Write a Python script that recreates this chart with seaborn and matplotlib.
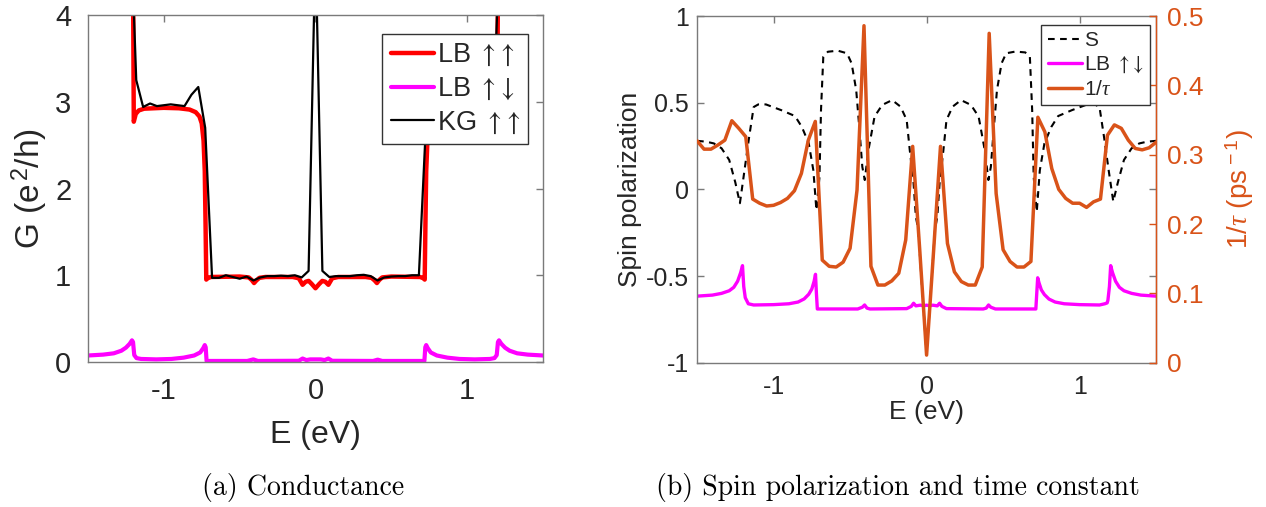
import numpy as np
import pandas as pd
import matplotlib
matplotlib.use("Agg")
import matplotlib.pyplot as plt
import seaborn as sns

# ---------------- data ----------------
# (a) Conductance: fine-grid Landauer-Buttiker curves (breakpoints)
E_LB_uu = [-1.50, -1.205, -1.198, -1.185, -1.165, -1.13, -1.0, -0.90, -0.83, -0.79, -0.765, -0.75,
           -0.738, -0.73, -0.725, -0.72, -0.712, -0.69, -0.5, -0.44, -0.42, -0.405, -0.39, -0.37,
           -0.33, -0.15, -0.11, -0.085, -0.065, -0.045, -0.025, 0.0, 0.025, 0.045, 0.065, 0.085,
           0.11, 0.15, 0.33, 0.37, 0.39, 0.405, 0.42, 0.44, 0.5, 0.69, 0.712, 0.72, 0.725, 0.73,
           0.738, 0.75, 0.765, 0.79, 0.83, 0.90, 1.0, 1.13, 1.165, 1.185, 1.198, 1.205, 1.50]
G_LB_uu = [5.0, 5.0, 2.77, 2.86, 2.90, 2.92, 2.93, 2.925, 2.91, 2.88, 2.83, 2.75,
           2.55, 2.2, 1.6, 0.95, 0.965, 0.98, 0.985, 0.975, 0.945, 0.91, 0.94, 0.97,
           0.98, 0.98, 0.965, 0.89, 0.925, 0.935, 0.90, 0.85, 0.90, 0.935, 0.925, 0.89,
           0.965, 0.98, 0.98, 0.97, 0.94, 0.91, 0.945, 0.975, 0.985, 0.98, 0.965, 0.95, 1.6, 2.2,
           2.55, 2.75, 2.83, 2.88, 2.91, 2.925, 2.93, 2.92, 2.90, 2.86, 2.77, 5.0, 5.0]

E_LB_ud = [-1.5, -1.4, -1.33, -1.28, -1.25, -1.225, -1.21, -1.203, -1.195, -1.18, -1.15, -1.05,
           -0.95, -0.87, -0.8, -0.76, -0.74, -0.73, -0.724, -0.718, -0.45, -0.41, -0.38, -0.11,
           -0.085, -0.06, -0.035, 0.0, 0.035, 0.06, 0.085, 0.11, 0.38, 0.41, 0.44, 0.718, 0.724,
           0.73, 0.74, 0.76, 0.8, 0.87, 0.95, 1.05, 1.15, 1.18, 1.195, 1.203, 1.21, 1.225, 1.25,
           1.28, 1.33, 1.4, 1.5]
G_LB_ud = [0.075, 0.085, 0.10, 0.13, 0.165, 0.21, 0.25, 0.23, 0.08, 0.045, 0.035, 0.03,
           0.035, 0.05, 0.075, 0.11, 0.16, 0.195, 0.17, 0.012, 0.012, 0.03, 0.012, 0.014,
           0.04, 0.022, 0.03, 0.03, 0.03, 0.022, 0.04, 0.014, 0.012, 0.027, 0.012, 0.012, 0.17,
           0.195, 0.16, 0.11, 0.075, 0.05, 0.035, 0.03, 0.035, 0.045, 0.08, 0.23, 0.25, 0.21, 0.165,
           0.13, 0.10, 0.085, 0.075]

# coarse energy grid (Kubo-Greenwood and 1/tau), 67 samples over [-1.5, 1.5]
E_coarse = np.linspace(-1.5, 1.5, 67)
G_KG_uu = [5.5, 5.5, 5.5, 5.5, 5.5, 5.5, 5.5, 3.25, 2.94, 2.98, 2.95, 2.96, 2.97, 2.96, 2.95,
           3.08, 3.17, 2.70, 0.97, 0.97, 1.0, 0.98, 0.96, 0.985, 0.94, 0.975, 0.99, 0.99, 0.995,
           0.99, 1.0, 0.975, 1.05, 4.8, 1.05, 0.98, 0.99, 0.99, 0.99, 1.0, 1.005, 0.99, 0.94,
           0.975, 0.985, 0.99, 0.99, 1.0, 1.0, 2.70, 3.17, 3.08, 2.95, 2.96, 2.97, 2.96, 2.95,
           2.98, 2.94, 3.25, 5.5, 5.5, 5.5, 5.5, 5.5, 5.5, 5.5]

# (b) Spin polarization (left axis) and 1/tau (right axis)
E_S = [-1.5, -1.44, -1.39, -1.34, -1.29, -1.25, -1.22, -1.19, -1.16, -1.13, -1.10, -1.05, -0.95,
       -0.86, -0.815, -0.77, -0.74, -0.72, -0.70, -0.69, -0.675, -0.645, -0.58, -0.52, -0.49,
       -0.46, -0.44, -0.42, -0.404, -0.38, -0.34, -0.29, -0.225, -0.17, -0.13, -0.11, -0.085,
       -0.07, -0.055, -0.03, 0.0, 0.03, 0.055, 0.07, 0.085, 0.11, 0.13, 0.17, 0.225, 0.29, 0.34,
       0.38, 0.404, 0.42, 0.44, 0.46, 0.49, 0.52, 0.58, 0.645, 0.675, 0.69, 0.70, 0.72, 0.74,
       0.77, 0.815, 0.86, 0.95, 1.05, 1.10, 1.13, 1.16, 1.19, 1.22, 1.25, 1.29, 1.34, 1.39,
       1.44, 1.5]
S_vals = [0.28, 0.275, 0.265, 0.237, 0.17, 0.04, -0.08, 0.11, 0.30, 0.475, 0.49, 0.49, 0.457,
          0.423, 0.36, 0.265, 0.11, -0.12, 0.07, 0.457, 0.765, 0.794, 0.80, 0.785, 0.727,
          0.573, 0.36, 0.13, 0.054, 0.227, 0.42, 0.487, 0.515, 0.477, 0.40, 0.227, 0.035,
          -0.158, -0.23, -0.56, -0.95, -0.56, -0.23, -0.158, 0.035, 0.227, 0.40, 0.477, 0.515,
          0.487, 0.42, 0.227, 0.054, 0.13, 0.36, 0.573, 0.727, 0.785, 0.795, 0.79, 0.765, 0.457,
          0.07, -0.13, 0.11, 0.265, 0.36, 0.423, 0.457, 0.49, 0.49, 0.475, 0.30, 0.11, -0.07,
          0.04, 0.17, 0.237, 0.265, 0.275, 0.28]

E_LB_ud2 = [-1.5, -1.40, -1.34, -1.29, -1.26, -1.235, -1.215, -1.203, -1.195, -1.185, -1.165,
            -1.13, -1.0, -0.9, -0.84, -0.8, -0.77, -0.75, -0.735, -0.726, -0.72, -0.714, -0.45,
            -0.42, -0.405, -0.39, -0.37, -0.13, -0.1, -0.085, -0.07, -0.04, -0.02, 0.0, 0.02,
            0.04, 0.07, 0.085, 0.1, 0.13, 0.37, 0.39, 0.405, 0.42, 0.45, 0.714, 0.72, 0.726,
            0.735, 0.75, 0.77, 0.8, 0.84, 0.9, 1.0, 1.13, 1.165, 1.18, 1.185, 1.195, 1.203,
            1.215, 1.235, 1.26, 1.29, 1.34, 1.40, 1.5]
S_LB_ud2 = [-0.616, -0.61, -0.60, -0.585, -0.565, -0.53, -0.48, -0.44, -0.56, -0.625, -0.66,
            -0.667, -0.665, -0.66, -0.65, -0.632, -0.605, -0.575, -0.53, -0.49, -0.60, -0.69,
            -0.69, -0.68, -0.667, -0.685, -0.69, -0.688, -0.675, -0.657, -0.672, -0.668, -0.672,
            -0.668, -0.672, -0.668, -0.672, -0.657, -0.675, -0.688, -0.69, -0.685, -0.667, -0.68,
            -0.69, -0.69, -0.60, -0.51, -0.54, -0.58, -0.607, -0.633, -0.65, -0.66, -0.665,
            -0.667, -0.66, -0.655, -0.64, -0.56, -0.44, -0.48, -0.53, -0.565, -0.585, -0.60,
            -0.61, -0.616]

inv_tau = [0.320, 0.308, 0.308, 0.314, 0.321, 0.349, 0.338, 0.326, 0.236, 0.230, 0.226, 0.227,
           0.231, 0.237, 0.248, 0.273, 0.321, 0.348, 0.148, 0.139, 0.138, 0.145, 0.165, 0.249,
           0.486, 0.139, 0.112, 0.112, 0.118, 0.129, 0.177, 0.312, 0.165, 0.011, 0.160, 0.312,
           0.172, 0.131, 0.117, 0.112, 0.112, 0.138, 0.475, 0.244, 0.163, 0.146, 0.138, 0.138,
           0.146, 0.354, 0.333, 0.280, 0.250, 0.237, 0.230, 0.230, 0.224, 0.232, 0.236, 0.328,
           0.343, 0.338, 0.321, 0.309, 0.307, 0.310, 0.318]

x_ticks = [-1, 0, 1]
x_tick_labels = ["-1", "0", "1"]
G_ticks = [0, 1, 2, 3, 4]
S_ticks = [-1, -0.5, 0, 0.5, 1]
S_tick_labels = ["-1", "-0.5", "0", "0.5", "1"]
tau_ticks = [0, 0.1, 0.2, 0.3, 0.4, 0.5]
tau_tick_labels = ["0", "0.1", "0.2", "0.3", "0.4", "0.5"]

lab_LB_uu = r"LB $\mathsf{\uparrow\!\uparrow}$"
lab_LB_ud = r"LB $\mathsf{\uparrow\!\downarrow}$"
lab_KG_uu = r"KG $\mathsf{\uparrow\!\uparrow}$"
lab_S = "S"
lab_tau = r"1/$\tau$"

# ---------------- style ----------------
sns.set_theme(style="white")
plt.rcParams["font.family"] = ["Liberation Sans", "DejaVu Sans"]
plt.rcParams["mathtext.fontset"] = "custom"
plt.rcParams["mathtext.rm"] = "Liberation Sans"
plt.rcParams["mathtext.it"] = "Liberation Serif:italic"
plt.rcParams["mathtext.sf"] = "STIXGeneral"
plt.rcParams["axes.unicode_minus"] = False

RED = "#ff0000"
MAG = "#ff00ff"
ORG = "#d95319"
SPINE = "#7a7a7a"
TXT = "#262626"

fig = plt.figure(figsize=(12.66, 5.07), dpi=100)
axL = fig.add_axes([0.0695, 0.286, 0.3594, 0.6844])
axR = fig.add_axes([0.5506, 0.2846, 0.3626, 0.6838])
axT = axR.twinx()

# ---- (a) ----
sns.lineplot(x=E_LB_uu, y=G_LB_uu, ax=axL, color=RED, lw=3.2, label=lab_LB_uu,
             sort=False, estimator=None)
sns.lineplot(x=E_LB_ud, y=G_LB_ud, ax=axL, color=MAG, lw=3.0, label=lab_LB_ud,
             sort=False, estimator=None)
sns.lineplot(x=E_coarse, y=G_KG_uu, ax=axL, color="black", lw=1.6, label=lab_KG_uu,
             sort=False, estimator=None)
axL.set_xlim(-1.5, 1.5)
axL.set_ylim(0, 4)
axL.set_xticks(x_ticks, labels=x_tick_labels)
axL.set_yticks(G_ticks)
axL.tick_params(direction="in", length=5, width=1, top=True, right=True,
                labelsize=21, color=SPINE, labelcolor=TXT)
axL.tick_params(axis="x", pad=11)
axL.tick_params(axis="y", pad=12)
for s in axL.spines.values():
    s.set_color(SPINE)
    s.set_linewidth(1.0)
axL.set_xlabel("E (eV)", fontsize=23, color=TXT)
axL.set_ylabel("G (e$^{\\,2}$/h)", fontsize=24, color=TXT)
axL.xaxis.set_label_coords(0.5, -0.21)
axL.xaxis.label.set_va("center")
axL.yaxis.set_label_coords(-0.127, 0.5)
axL.yaxis.label.set_va("center")
leg = axL.legend(loc="upper right", bbox_to_anchor=(0.967, 0.945), fontsize=19.5,
                 frameon=True, fancybox=False, edgecolor="#333333", framealpha=1,
                 handlelength=1.6, handletextpad=0.1, borderpad=0.3, labelspacing=0.28,
                 borderaxespad=0)
leg.get_frame().set_linewidth(1.0)

# ---- (b) ----
sns.lineplot(x=E_S, y=S_vals, ax=axR, color="black", lw=1.5, label=lab_S,
             sort=False, estimator=None)
axR.lines[-1].set_linestyle((0, (3.2, 2.6)))
sns.lineplot(x=E_LB_ud2, y=S_LB_ud2, ax=axR, color=MAG, lw=2.4, label=lab_LB_ud,
             sort=False, estimator=None)
sns.lineplot(x=E_coarse, y=inv_tau, ax=axT, color=ORG, lw=2.5, label=lab_tau,
             sort=False, estimator=None)
if axR.get_legend() is not None:
    axR.get_legend().remove()
if axT.get_legend() is not None:
    axT.get_legend().remove()

axR.set_xlim(-1.5, 1.5)
axR.set_ylim(-1, 1)
axT.set_ylim(0, 0.5)
axR.set_xticks(x_ticks, labels=x_tick_labels)
axR.set_yticks(S_ticks, labels=S_tick_labels)
axT.set_yticks(tau_ticks, labels=tau_tick_labels)
axR.tick_params(direction="in", length=5, width=1, top=True, right=True,
                labelsize=18, color=SPINE, labelcolor=TXT, pad=6)
axR.tick_params(axis="x", pad=9)
axT.tick_params(axis="y", direction="in", length=5, width=1, labelsize=19,
                color=ORG, labelcolor=ORG, pad=8)
for s in axR.spines.values():
    s.set_color(SPINE)
    s.set_linewidth(1.0)
for k in ["top", "left", "bottom"]:
    axT.spines[k].set_visible(False)
axT.spines["right"].set_color(ORG)
axT.spines["right"].set_linewidth(1.0)
axR.set_xlabel("E (eV)", fontsize=19, color=TXT)
axR.set_ylabel("Spin polarization", fontsize=19, color=TXT)
axT.set_ylabel("1/$\\tau$ (ps$^{\\,-1}$)", fontsize=20, color=ORG)
axR.xaxis.set_label_coords(0.5, -0.142)
axR.xaxis.label.set_va("center")
axR.yaxis.set_label_coords(-0.146, 0.5)
axR.yaxis.label.set_va("center")
axT.yaxis.set_label_coords(1.183, 0.5)
axT.yaxis.label.set_va("center")

h1, l1 = axR.get_legend_handles_labels()
h2, l2 = axT.get_legend_handles_labels()
leg2 = axT.legend(h1 + h2, l1 + l2, loc="upper right", bbox_to_anchor=(0.987, 0.974),
                  fontsize=15, frameon=True, fancybox=False, edgecolor="#333333",
                  framealpha=1, handlelength=1.65, handletextpad=0.1, borderpad=0.3,
                  labelspacing=0.22, borderaxespad=0)
leg2.get_frame().set_linewidth(1.0)

# captions
fig.text(303 / 1266, 1 - 488 / 507, "(a) Conductance", ha="center", va="center",
         family="cmr10", fontsize=20, color="black")
fig.text(898 / 1266, 1 - 488 / 507, "(b) Spin polarization and time constant",
         ha="center", va="center", family="cmr10", fontsize=20, color="black")

fig.savefig("out.png", dpi=100)
